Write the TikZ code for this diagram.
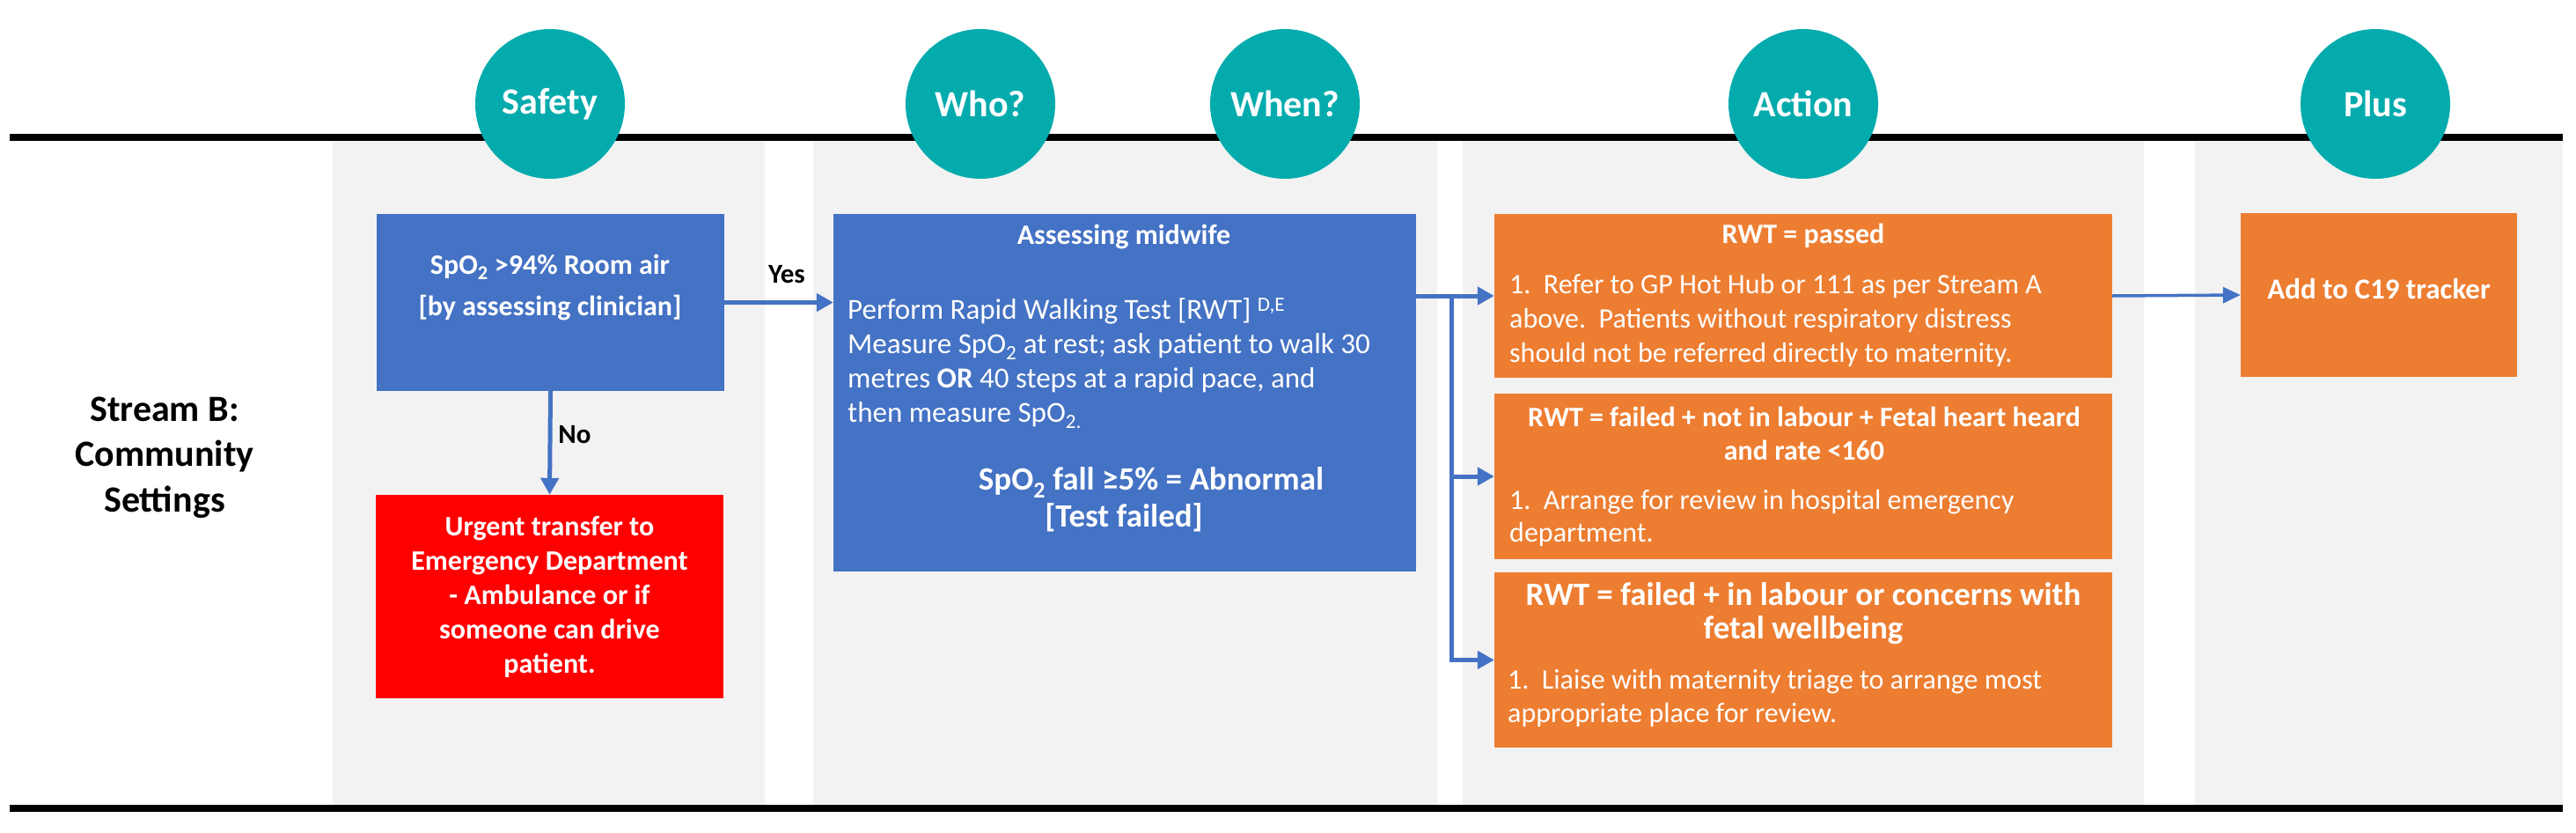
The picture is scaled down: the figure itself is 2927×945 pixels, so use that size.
\documentclass[tikz,border=0pt]{standalone}
\usepackage{fontspec}
\setmainfont{Carlito}
\usetikzlibrary{arrows.meta}
\definecolor{hdrteal}{RGB}{4,171,173}
\definecolor{boxblue}{RGB}{68,114,196}
\definecolor{boxorange}{RGB}{237,125,49}
\definecolor{boxred}{RGB}{255,0,0}
\definecolor{panelgray}{RGB}{242,242,242}
\tikzset{
  panel/.style={fill=panelgray, draw=none},
  rule/.style={line width=8pt, black},
  hdr/.style={circle, fill=hdrteal, minimum size=170pt, inner sep=0pt, text=white, font=\fontsize{42}{50}\selectfont\bfseries},
  bbox/.style={rectangle, fill=boxblue, inner sep=0pt},
  obox/.style={rectangle, fill=boxorange, inner sep=0pt},
  rbox/.style={rectangle, fill=boxred, inner sep=0pt},
  wtxt/.style={inner sep=0pt, text=white},
  lbl/.style={inner sep=0pt, text=black, font=\fontsize{31}{36}\selectfont\bfseries},
  arr/.style={draw=boxblue, line width=5pt, -{Triangle[length=19pt,width=20pt]}},
  thinarr/.style={draw=boxblue, line width=3.5pt, -{Triangle[length=20pt,width=18pt]}},
}
\begin{document}
\begin{tikzpicture}[x=1pt,y=-1pt]
\useasboundingbox (0,0) rectangle (2927,945);
% panels
\fill[panel] (378,156) rectangle (869,918);
\fill[panel] (924,156) rectangle (1633,918);
\fill[panel] (1662,156) rectangle (2436,918);
\fill[panel] (2494,156) rectangle (2912,918);
% rules
\draw[rule] (11,156) -- (2912,156);
\draw[rule] (11,918) -- (2912,918);
% header circles
\node[hdr] (hsafety) at (625,118) {Safety};
\node[hdr] (hwho) at (1114,118) {Who?};
\node[hdr] (hwhen) at (1460,118) {When?};
\node[hdr] (haction) at (2049,118) {Action};
\node[hdr] (hplus) at (2699,118) {Plus};
% stream label
\node[inner sep=0pt, align=center, font=\fontsize{42}{51.5}\selectfont\bfseries] (stream) at (187,519.5) {Stream B:\\Community\\Settings};
% boxes
\node[bbox, minimum width=395pt, minimum height=201pt] (b1) at (625.5,343.5) {};
\node[rbox, minimum width=395pt, minimum height=231pt] (red) at (624.5,677.5) {};
\node[bbox, minimum width=662pt, minimum height=406pt] (b2) at (1278,446) {};
\node[obox, minimum width=702pt, minimum height=186pt] (o1) at (2049,336) {};
\node[obox, minimum width=702pt, minimum height=188pt] (o2) at (2049,541) {};
\node[obox, minimum width=702pt, minimum height=199pt] (o3) at (2049,749.5) {};
\node[obox, minimum width=314pt, minimum height=186pt] (c19) at (2703,335) {};
% box texts
\node[wtxt, align=center, font=\fontsize{32}{47}\selectfont\bfseries] (t1) at (625,326.5) {SpO\textsubscript{2} >94\% Room air\\{}[by assessing clinician]};
\node[wtxt, align=center, font=\fontsize{32}{39}\selectfont\bfseries] (tred) at (624.5,677.5) {Urgent transfer to\\Emergency Department\\- Ambulance or if\\someone can drive\\patient.};
\node[wtxt, font=\fontsize{32}{38}\selectfont\bfseries] (t2a) at (1277,269) {Assessing midwife};
\node[wtxt, anchor=west, align=left, font=\fontsize{33}{39}\selectfont] (t2b) at (963,412.5) {Perform Rapid Walking Test [RWT] \textsuperscript{D,E}\\Measure SpO\textsubscript{2} at rest; ask patient to walk 30\\metres \textbf{OR} 40 steps at a rapid pace, and\\then measure SpO\textsubscript{2.}};
\node[wtxt, font=\fontsize{37}{40}\selectfont\bfseries] (t2c) at (1308,548) {SpO\textsubscript{2} fall ≥5\% = Abnormal};
\node[wtxt, font=\fontsize{37}{40}\selectfont\bfseries] (t2d) at (1277,588) {[Test failed]};
\node[wtxt, font=\fontsize{32}{38}\selectfont\bfseries] (o1a) at (2049,268) {RWT = passed};
\node[wtxt, anchor=west, align=left, font=\fontsize{32}{39}\selectfont] (o1b) at (1715,364) {1.\ \ Refer to GP Hot Hub or 111 as per Stream A\\above.\ \ Patients without respiratory distress\\should not be referred directly to maternity.};
\node[wtxt, align=center, font=\fontsize{32}{38}\selectfont\bfseries] (o2a) at (2050,492) {RWT = failed + not in labour + Fetal heart heard\\and rate <160};
\node[wtxt, anchor=west, align=left, font=\fontsize{32}{37}\selectfont] (o2b) at (1715,588.5) {1.\ \ Arrange for review in hospital emergency\\department.};
\node[wtxt, align=center, font=\fontsize{37}{38}\selectfont\bfseries] (o3a) at (2049,697) {RWT = failed + in labour or concerns with\\fetal wellbeing};
\node[wtxt, anchor=west, align=left, font=\fontsize{32}{38}\selectfont] (o3b) at (1713,793) {1.\ \ Liaise with maternity triage to arrange most\\appropriate place for review.};
\node[wtxt, font=\fontsize{33}{38}\selectfont\bfseries] (c19t) at (2703,328) {Add to C19 tracker};
% connectors
\draw[arr] (b1.east) -- (b2.west |- b1.east);
\node[lbl] (yes) at (894,312) {Yes};
\draw[arr] (b1.south) -- (red.north);
\node[lbl] (no) at (653,494) {No};
\draw[arr] (b2.east |- o1.west) -- (o1.west);
\coordinate (tr) at (1649,336);
\draw[arr] (tr) |- (o2.west);
\draw[arr] (tr) |- (o3.west);
\draw[thinarr] (o1.east) -- (c19.west);
\end{tikzpicture}
\end{document}
